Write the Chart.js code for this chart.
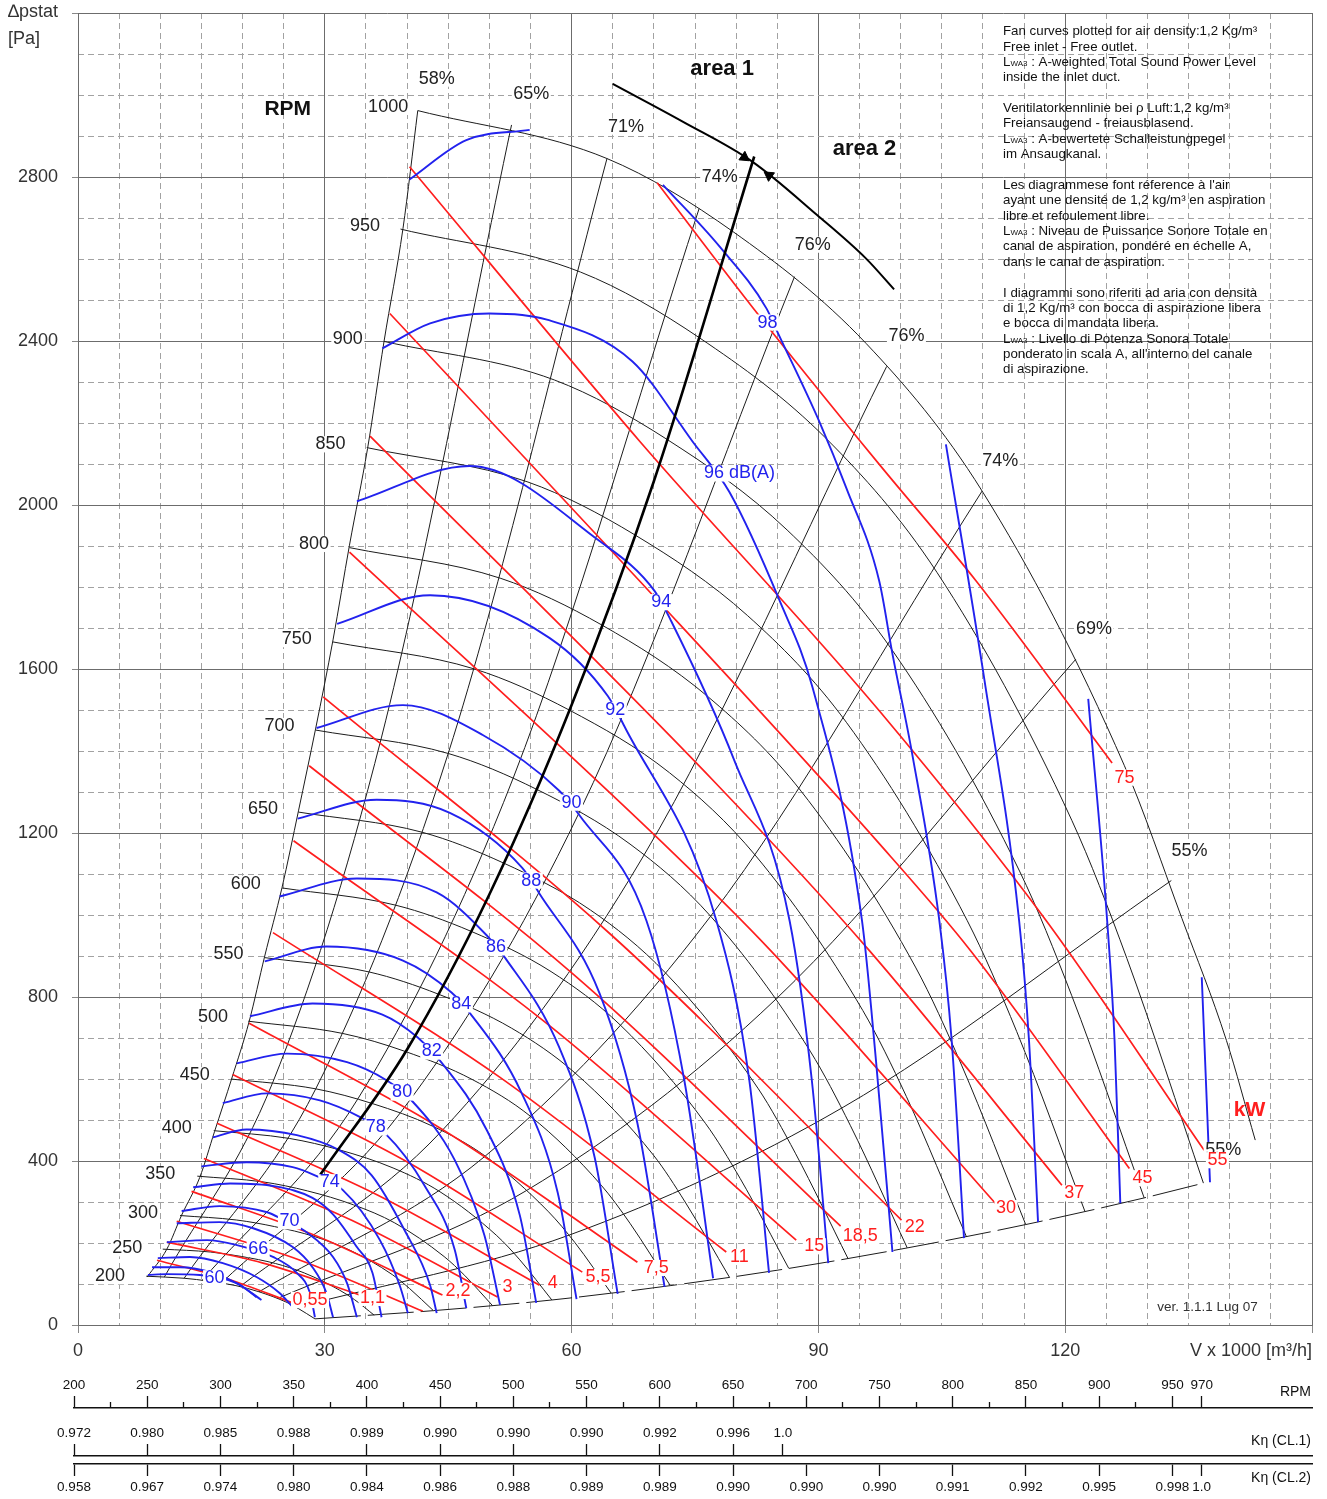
<!DOCTYPE html>
<html>
<head>
<meta charset="utf-8">
<script src="https://cdn.jsdelivr.net/npm/chart.js@4.4.0/dist/chart.umd.min.js"></script>
<style>
  html, body { margin: 0; padding: 0; background: #fff; }
  #wrap { position: relative; width: 1327px; height: 1499px; }
  canvas { position: absolute; left: 0; }
</style>
</head>
<body>
<div id="wrap">
  <canvas id="fan" width="1327" height="1499" style="top:0;width:1327px;height:1499px"></canvas>
  <canvas id="scales" width="1327" height="139" style="top:1360px;width:1327px;height:139px"></canvas>
</div>
<script>
// all curves as [V x 1000 m3/h, static pressure Pa]

// fan curves at constant speed
const rpm1000 = [[41.3,2962],[64.3,2845],[79.6,2667],[95.8,2394],[109.9,2034],[127.2,1364],[134.2,991],[139.6,694],[143.1,451]];
const rpm950 = [[39.2,2673],[61.1,2568],[75.6,2407],[91.0,2161],[104.4,1836],[120.8,1231],[127.5,894],[136.8,346]];
const rpm900 = [[37.2,2399],[57.9,2305],[71.6,2160],[86.2,1939],[98.9,1648],[114.5,1105],[120.8,803],[129.6,310]];
const rpm850 = [[35.1,2140],[54.7,2056],[67.7,1927],[81.4,1730],[93.4,1470],[108.1,986],[114.1,716],[122.4,277]];
const rpm800 = [[33.0,1896],[51.4,1821],[63.7,1707],[76.6,1532],[87.9,1302],[101.8,873],[107.4,634],[115.2,245]];
const rpm750 = [[31.0,1666],[48.2,1600],[59.7,1500],[71.9,1347],[82.4,1144],[95.4,767],[100.7,557],[108.0,215]];
const rpm700 = [[28.9,1451],[45.0,1394],[55.7,1307],[67.1,1173],[76.9,997],[89.0,668],[93.9,486],[100.8,188]];
const rpm650 = [[26.8,1251],[41.8,1202],[51.7,1127],[62.3,1012],[71.4,859],[82.7,576],[87.2,419],[93.6,162]];
const rpm600 = [[24.8,1066],[38.6,1024],[47.8,960],[57.5,862],[65.9,732],[76.3,491],[80.5,357],[86.4,138]];
const rpm550 = [[22.7,896],[35.4,861],[43.8,807],[52.7,724],[60.4,615],[70.0,413],[73.8,300],[79.2,116]];
const rpm500 = [[20.7,741],[32.2,711],[39.8,667],[47.9,599],[55.0,509],[63.6,341],[67.1,248],[72.0,96]];
const rpm450 = [[18.6,600],[28.9,576],[35.8,540],[43.1,485],[49.5,412],[57.2,276],[60.4,201],[64.8,78]];
const rpm400 = [[16.5,474],[25.7,455],[31.8,427],[38.3,383],[44.0,325],[50.9,218],[53.7,159],[57.6,61]];
const rpm350 = [[14.5,363],[22.5,349],[27.9,327],[33.5,293],[38.5,249],[44.5,167],[47.0,121],[50.4,47]];
const rpm300 = [[12.4,267],[19.3,256],[23.9,240],[28.7,216],[33.0,183],[38.2,123],[40.3,89],[43.2,35]];
const rpm250 = [[10.3,185],[16.1,178],[19.9,167],[24.0,150],[27.5,127],[31.8,85],[33.6,62],[36.0,24]];
const rpm200 = [[8.3,119],[12.9,114],[15.9,107],[19.2,96],[22.0,81],[25.4,55],[26.8,40],[28.8,15]];

// stall limit (58 %) and end-of-curve limit
const stallLine = [[8.4,117],[10.8,185],[12.6,268],[14.8,360],[16.6,472],[18.7,602],[20.8,740],[22.7,900],[24.8,1067],[26.8,1254],[28.9,1456],[31.0,1671],[33.0,1902],[35.2,2138],[37.2,2399],[39.5,2674],[41.3,2962]];
const endLine = [[28.8,15],[43.2,35],[57.6,61],[72.0,96],[86.4,138],[100.8,188],[115.2,245],[129.6,310],[136.8,346]];

// efficiency lines
const eff65 = [[10.5,117],[23.7,593],[36.9,1434],[52.7,2927]];
const eff71 = [[12.9,114],[28.9,576],[45.0,1394],[64.3,2845]];
const eff74a = [[15.1,109],[34.0,551],[52.9,1334],[75.5,2723]];
const eff76a = [[17.4,102],[39.2,518],[61.0,1253],[87.1,2557]];
const eff76b = [[19.7,94],[44.2,473],[68.8,1146],[98.3,2338]];
const eff74b = [[22.0,81],[49.5,412],[76.9,997],[109.9,2034]];
const eff69 = [[24.3,65],[54.6,329],[84.9,796],[121.3,1624]];
const eff55 = [[26.6,43],[59.8,220],[93.0,531],[132.9,1084]];

// shaft power lines, kW
const kw0_55 = [[9.6,158],[17.9,114],[26.1,54]];
const kw1_1 = [[10.8,202],[22.5,151],[34.3,73]];
const kw1_5 = [[12.0,253],[27.0,158],[41.9,34]];
const kw2_2 = [[13.8,326],[29.0,217],[44.3,73]];
const kw3 = [[15.3,406],[33.2,256],[51.0,68]];
const kw4 = [[16.9,492],[36.4,317],[56.1,97]];
const kw5_5 = [[18.8,611],[40.1,397],[61.3,129]];
const kw7_5 = [[20.8,736],[44.3,477],[68.0,153]];
const kw11 = [[23.7,957],[51.3,604],[78.8,178]];
const kw15 = [[26.2,1181],[56.7,740],[87.3,207]];
const kw18_5 = [[28.1,1364],[60.4,852],[92.7,241]];
const kw22 = [[29.8,1532],[64.9,950],[100.1,256]];
const kw30 = [[33.0,1885],[72.3,1152],[84.2,913],[111.5,297]];
const kw37 = [[35.5,2168],[77.5,1322],[96.2,913],[119.6,341]];
const kw45 = [[37.9,2467],[68.3,1814],[97.4,1174],[108.5,913],[127.8,382]];
const kw55 = [[40.3,2825],[68.3,2155],[97.4,1498],[117.7,986],[136.9,426]];
const kw75 = [[70.4,2786],[82.2,2477],[97.4,2099],[109.2,1814],[125.7,1371]];

// sound power lines, dB(A)
const db60 = [[8.5,122],[10.8,124],[14.8,122],[19.3,102],[21.7,68]];
const db62 = [[9.0,141],[12.4,141],[16.4,127],[19.7,97],[22.3,61]];
const db64 = [[9.7,163],[13.6,166],[17.6,151],[21.7,117],[24.5,78],[26.1,44]];
const db66 = [[10.8,202],[15.7,207],[19.3,195],[23.7,166],[26.6,127],[28.2,78],[28.8,19]];
const db68 = [[12.0,248],[17.2,251],[21.3,236],[26.1,190],[28.5,141],[30.2,78],[31.0,19]];
const db70 = [[12.6,278],[17.2,290],[23.0,275],[24.8,258],[27.8,226],[31.0,166],[32.7,102],[33.9,19]];
const db72 = [[14.0,336],[18.5,345],[24.0,338],[28.5,310],[31.0,270],[33.9,190],[35.8,127],[36.9,19]];
const db74 = [[15.0,387],[20.5,397],[26.1,385],[28.8,365],[32.2,329],[36.7,207],[39.1,97],[40.1,29]];
const db76 = [[16.4,458],[20.5,477],[26.6,463],[31.8,426],[35.7,365],[39.7,231],[42.8,97],[43.6,29]];
const db78 = [[17.6,541],[23.0,565],[29.4,548],[34.3,507],[37.3,468],[42.1,341],[45.8,183],[47.2,41]];
const db80 = [[19.3,638],[25.4,662],[32.7,641],[37.5,597],[40.3,553],[45.8,402],[49.4,219],[51.3,49]];
const db82 = [[20.9,753],[28.5,784],[37.0,757],[41.3,701],[44.0,645],[49.7,475],[53.7,268],[55.7,54]];
const db84 = [[22.7,887],[30.2,923],[39.5,889],[45.4,811],[47.6,762],[53.9,567],[58.3,324],[60.6,63]];
const db86 = [[24.5,1045],[33.9,1089],[43.6,1055],[49.7,950],[51.9,896],[58.5,677],[62.8,409],[65.6,76]];
const db88 = [[26.7,1235],[36.3,1281],[45.2,1249],[54.0,1115],[56.1,1052],[63.4,809],[68.0,492],[71.3,93]];
const db90 = [[29.0,1456],[39.5,1512],[49.2,1439],[58.5,1303],[61.0,1242],[69.1,986],[73.7,597],[77.2,114]];
const db92 = [[31.5,1710],[42.8,1780],[57.3,1676],[64.4,1534],[66.4,1461],[77.6,986],[81.6,597],[84.0,127]];
const db94 = [[33.9,2009],[47.6,2095],[63.4,1912],[70.1,1790],[72.1,1717],[79.8,1376],[86.5,986],[89.2,597],[91.2,151]];
const db96 = [[37.0,2382],[42.8,2443],[50.0,2467],[57.0,2452],[67.4,2350],[74.7,2155],[79.2,2031],[85.3,1766],[89.3,1554],[95.3,986],[97.0,645],[99.0,178]];
const db98Left = [[40.3,2794],[47.2,2890],[54.9,2915]];
const db98Right = [[71.1,2781],[78.0,2630],[83.7,2479],[85.0,2423],[90.1,2204],[93.4,2041],[97.4,1814],[99.0,1637],[101.4,1393],[104.7,986],[106.2,694],[107.7,212]];
const db100 = [[105.5,2148],[110.2,1571],[114.4,986],[115.6,694],[116.7,251]];
const db102 = [[122.8,1527],[125.1,986],[126.0,694],[126.7,297]];
const db104 = [[136.6,848],[137.6,348]];

// working range arrow and area divider
const systemLine = [[29.4,365],[40.0,672],[50.0,1050],[60.0,1512],[70.0,2058],[82.2,2850]];
const areaArc = [[65.0,3027],[73.5,2935],[82.0,2837],[89.8,2708],[95.8,2601],[99.2,2526]];
const arrowAt = [[81.0,2848],[84.0,2804]];

// axis ticks
const flowTicks = [0, 30, 60, 90, 120, 150];
const pressureTicks = [0, 400, 800, 1200, 1600, 2000, 2400, 2800, 3200];
const flowMinorTicks = [];
for (let v = 0; v <= 150; v += 5) flowMinorTicks.push(v);
const pressureMinorTicks = [];
for (let v = 0; v <= 3200; v += 100) pressureMinorTicks.push(v);

// bottom scales (positions are in RPM)
const speedTicks = [];
for (let v = 200; v <= 950; v += 25) speedTicks.push(v);
speedTicks.push(970);
const cl1Ticks = [200, 250, 300, 350, 400, 450, 500, 550, 600, 650, 684];
const cl1Labels = ['0.972','0.980','0.985','0.988','0.989','0.990','0.990','0.990','0.992','0.996','1.0'];
const cl2Ticks = [200, 250, 300, 350, 400, 450, 500, 550, 600, 650, 700, 750, 800, 850, 900, 950, 970];
const cl2Labels = ['0.958','0.967','0.974','0.980','0.984','0.986','0.988','0.989','0.989','0.990','0.990','0.990','0.991','0.992','0.995','0.998','1.0'];

// text labels and where they sit
const rpmNames = ['1000','950','900','850','800','750','700','650','600','550','500','450','400','350','300','250','200'];
const rpmNameAt = [[37.7,2971],[34.9,2681],[32.8,2406],[30.7,2148],[28.7,1905],[26.6,1673],[24.5,1461],[22.5,1259],[20.4,1076],[18.3,904],[16.4,750],[14.2,609],[12.0,480],[10.0,368],[7.9,273],[6.0,187],[3.9,119]];
const effNames = ['58%','65%','71%','74%','76%','76%','74%','69%','55%','55%'];
const effNameAt = [[43.6,3040],[55.1,3003],[66.6,2923],[78.0,2801],[89.3,2635],[100.7,2411],[112.1,2107],[123.5,1698],[135.1,1157],[139.2,426]];
const dbNames = ['60','66','70','74','78','80','82','84','86','88','90','92','94','96 dB(A)','98'];
const dbNameAt = [[16.6,114],[21.9,185],[25.7,253],[30.6,348],[36.2,482],[39.4,567],[43.0,667],[46.6,782],[50.8,921],[55.1,1084],[60.0,1274],[65.3,1500],[70.9,1763],[80.4,2077],[83.8,2445]];
const kwNames = ['0,55','1,1','2,2','3','4','5,5','7,5','11','15','18,5','22','30','37','45','55','75'];
const kwNameAt = [[28.2,61],[35.8,66],[46.2,83],[52.2,93],[57.7,102],[63.2,117],[70.3,139],[80.4,166],[89.5,192],[95.1,217],[101.7,239],[112.8,285],[121.1,321],[129.4,358],[138.5,402],[127.2,1335]];

const notes = [
  [31, 'Fan curves plotted for air density:1,2 Kg/m³'],
  [47, 'Free inlet - Free outlet.'],
  [62, ' : A-weighted Total Sound Power Level', true],
  [77, 'inside the inlet duct.'],
  [108, 'Ventilatorkennlinie bei ρ Luft:1,2 kg/m³'],
  [123, 'Freiansaugend - freiausblasend.'],
  [139, ' : A-bewertete Schalleistungpegel', true],
  [154, 'im Ansaugkanal.'],
  [185, 'Les diagrammese font réference à l\'air'],
  [200, 'ayant une densité de 1,2 kg/m³ en aspiration'],
  [216, 'libre et refoulement libre.'],
  [231, ' : Niveau de Puissance Sonore Totale en', true],
  [246, 'canal de aspiration, pondéré en échelle A,'],
  [262, 'dans le canal de aspiration.'],
  [293, 'I diagrammi sono riferiti ad aria con densità'],
  [308, 'di 1,2 Kg/m³ con bocca di aspirazione libera'],
  [323, 'e bocca di mandata libera.'],
  [339, ' : Livello di Potenza Sonora Totale', true],
  [354, 'ponderato in scala A, all\'interno del canale'],
  [369, 'di aspirazione.']
];

const FONT = "'Liberation Sans', Arial, Helvetica, sans-serif";
const NARROW = "'Liberation Sans Narrow', 'Liberation Sans', sans-serif";
const BLACK = '#1c1c1c';
const RED = '#ff1e1e';
const BLUE = '#2222ee';
Chart.defaults.font.family = FONT;

const datasets = [];
function addCurve(points, color, width, order, extra) {
  datasets.push(Object.assign({
    data: points.map(p => ({ x: p[0], y: p[1] })),
    showLine: true,
    borderColor: color,
    borderWidth: width,
    pointRadius: 0,
    pointHoverRadius: 0,
    fill: false,
    cubicInterpolationMode: 'monotone',
    order: order
  }, extra || {}));
}

[rpm1000, rpm950, rpm900, rpm850, rpm800, rpm750, rpm700, rpm650, rpm600, rpm550,
 rpm500, rpm450, rpm400, rpm350, rpm300, rpm250, rpm200].forEach(c => addCurve(c, BLACK, 1, 5));
addCurve(stallLine, BLACK, 1, 5);
addCurve(endLine, BLACK, 1, 5, { borderDash: [46, 7] });
[eff65, eff71, eff74a, eff76a, eff76b, eff74b, eff69, eff55].forEach(c => addCurve(c, BLACK, 1, 5));
[kw0_55, kw1_1, kw1_5, kw2_2, kw3, kw4, kw5_5, kw7_5, kw11, kw15, kw18_5,
 kw22, kw30, kw37, kw45, kw55, kw75].forEach(c => addCurve(c, RED, 1.7, 3));
[db60, db62, db64, db66, db68, db70, db72, db74, db76, db78, db80, db82, db84, db86,
 db88, db90, db92, db94, db96, db98Left, db98Right, db100, db102, db104].forEach(c => addCurve(c, BLUE, 1.9, 2));
addCurve(systemLine, '#000', 2.6, 1);
addCurve(areaArc, '#000', 2, 1);
datasets.push({
  data: arrowAt.map(p => ({ x: p[0], y: p[1] })),
  showLine: false,
  pointStyle: 'triangle',
  pointRadius: 6,
  pointRotation: [125, 305],
  pointBackgroundColor: '#000',
  pointBorderColor: '#000',
  order: 0
});

function fixedTicks(values) {
  return scale => { scale.ticks = values.map(v => ({ value: v })); };
}

function tag(ctx, text, px, py, size, color, weight, boxed) {
  ctx.font = (weight ? weight + ' ' : '') + size + 'px ' + FONT;
  const w = ctx.measureText(text).width;
  if (boxed) {
    ctx.fillStyle = '#fff';
    ctx.fillRect(px - w / 2 - 1.5, py - size * 0.45, w + 3, size * 0.9);
  }
  ctx.fillStyle = color;
  ctx.textAlign = 'center';
  ctx.textBaseline = 'middle';
  ctx.fillText(text, px, py);
}

const chartText = {
  id: 'chartText',
  afterDatasetsDraw(chart) {
    const { ctx } = chart;
    const x = chart.scales.x, y = chart.scales.y;
    const at = p => [x.getPixelForValue(p[0]), y.getPixelForValue(p[1])];
    ctx.save();
    rpmNames.forEach((t, i) => { const q = at(rpmNameAt[i]); tag(ctx, t, q[0], q[1], 18, '#222', '', true); });
    effNames.forEach((t, i) => { const q = at(effNameAt[i]); tag(ctx, t, q[0], q[1], 18, '#222', '', true); });
    dbNames.forEach((t, i) => { const q = at(dbNameAt[i]); tag(ctx, t, q[0], q[1], 18, BLUE, '', true); });
    kwNames.forEach((t, i) => { const q = at(kwNameAt[i]); tag(ctx, t, q[0], q[1], 18, RED, '', true); });
    let q = at([25.5, 2966]); tag(ctx, 'RPM', q[0], q[1], 21, '#111', 'bold', false);
    q = at([78.3, 3064]); tag(ctx, 'area 1', q[0], q[1], 22, '#111', 'bold', false);
    q = at([95.6, 2869]); tag(ctx, 'area 2', q[0], q[1], 22, '#111', 'bold', false);
    q = at([142.4, 524]); tag(ctx, 'kW', q[0], q[1], 21, RED, 'bold', false);
    q = at([137.3, 44]); tag(ctx, 'ver. 1.1.1 Lug 07', q[0], q[1], 13.5, '#333', '', false);

    // axis captions
    ctx.fillStyle = '#333';
    ctx.textBaseline = 'middle';
    ctx.textAlign = 'left';
    ctx.font = '18px ' + FONT;
    ctx.fillText('∆pstat', 8, 12);
    ctx.fillText('[Pa]', 8, 39);
    ctx.textAlign = 'right';
    ctx.fillText('V x 1000 [m³/h]', chart.chartArea.right, 1351);

    // notes block
    ctx.textAlign = 'left';
    ctx.fillStyle = '#111';
    notes.forEach(n => {
      let px = 1003;
      if (n[2]) {
        ctx.font = '13.3px ' + FONT;
        ctx.fillText('L', px, n[0]);
        px += ctx.measureText('L').width;
        ctx.font = '8px ' + FONT;
        ctx.fillText('WA3', px, n[0] + 2);
        px += ctx.measureText('WA3').width;
      }
      ctx.font = '13.3px ' + FONT;
      ctx.fillText(n[1], px, n[0]);
    });
    ctx.restore();
  }
};

new Chart(document.getElementById('fan'), {
  type: 'scatter',
  data: { datasets: datasets },
  options: {
    responsive: false,
    animation: false,
    events: [],
    layout: { padding: { left: 0, right: 15, top: 13, bottom: 0 } },
    plugins: { legend: { display: false }, tooltip: { enabled: false } },
    scales: {
      x: {
        type: 'linear', min: 0, max: 150, position: 'bottom',
        afterBuildTicks: fixedTicks(flowTicks),
        afterFit: s => { s.height = 174; s.paddingLeft = 0; s.paddingRight = 0; },
        grid: { color: '#6c6c6c', lineWidth: 1, tickLength: 8, tickColor: '#888' },
        border: { color: '#6c6c6c' },
        ticks: { autoSkip: false, maxRotation: 0, padding: 7, color: '#333', font: { size: 18 },
                 callback: v => (v === 150 ? '' : String(v)) }
      },
      xMinor: {
        type: 'linear', min: 0, max: 150, position: 'bottom',
        afterBuildTicks: fixedTicks(flowMinorTicks),
        afterFit: s => { s.height = 0; s.paddingLeft = 0; s.paddingRight = 0; },
        grid: { color: c => (c.tick && c.tick.value % 30 === 0 ? 'rgba(0,0,0,0)' : '#a2a2a2'), drawTicks: false },
        border: { display: false, dash: [6, 4] },
        ticks: { display: false }
      },
      y: {
        type: 'linear', min: 0, max: 3200, position: 'left',
        afterBuildTicks: fixedTicks(pressureTicks),
        afterFit: s => { s.width = 78; s.paddingTop = 0; s.paddingBottom = 0; },
        grid: { color: '#6c6c6c', lineWidth: 1, tickLength: 6, tickColor: '#888' },
        border: { color: '#6c6c6c' },
        ticks: { autoSkip: false, padding: 14, color: '#333', font: { size: 18 },
                 callback: v => (v === 3200 ? '' : String(v)) }
      },
      yMinor: {
        type: 'linear', min: 0, max: 3200, position: 'left',
        afterBuildTicks: fixedTicks(pressureMinorTicks),
        afterFit: s => { s.width = 0; s.paddingTop = 0; s.paddingBottom = 0; },
        grid: { color: c => (c.tick && c.tick.value % 400 === 0 ? 'rgba(0,0,0,0)' : '#a2a2a2'), drawTicks: false },
        border: { display: false, dash: [6, 4] },
        ticks: { display: false }
      }
    }
  },
  plugins: [chartText]
});

// speed and correction-factor scales under the chart
function speedAxis(position, weight, values, label, height) {
  return {
    type: 'linear', axis: 'x', position: position, weight: weight, min: 200, max: 1045.3,
    afterBuildTicks: fixedTicks(values),
    afterFit: s => { s.height = height; },
    grid: {
      drawOnChartArea: false, tickLength: 12, tickColor: '#111', tickWidth: 1.3,
      tickBorderDash: c => (c.tick && label === null && c.tick.value % 50 !== 0 && c.tick.value !== 970 ? [0, 6, 6, 0] : [])
    },
    border: { color: '#111', width: 1.6 },
    ticks: {
      autoSkip: false, maxRotation: 0, padding: 3, color: '#111',
      font: { family: NARROW, size: 13.5 },
      callback: (v, i) => {
        if (label) return label[i];
        return (v % 50 === 0 || v === 970) ? String(v) : '';
      }
    }
  };
}

const scaleTitles = {
  id: 'scaleTitles',
  afterDraw(chart) {
    const ctx = chart.ctx;
    ctx.save();
    ctx.font = '14px ' + NARROW;
    ctx.fillStyle = '#111';
    ctx.textAlign = 'right';
    ctx.textBaseline = 'middle';
    ctx.fillText('RPM', 1311, 32);
    ctx.fillText('Kη (CL.1)', 1311, 81);
    ctx.fillText('Kη (CL.2)', 1311, 118);
    ctx.restore();
  }
};

new Chart(document.getElementById('scales'), {
  type: 'scatter',
  data: { datasets: [] },
  options: {
    responsive: false,
    animation: false,
    events: [],
    layout: { padding: { left: 74, right: 15, top: 0, bottom: 0 } },
    plugins: { legend: { display: false }, tooltip: { enabled: false } },
    scales: {
      x: { display: false },
      y: { display: false },
      rpm: speedAxis('top', 2, speedTicks, null, 48),
      cl1: speedAxis('top', 1, cl1Ticks, cl1Labels, 48),
      cl2: speedAxis('bottom', 1, cl2Ticks, cl2Labels, 35)
    }
  },
  plugins: [scaleTitles]
});
</script>
</body>
</html>
